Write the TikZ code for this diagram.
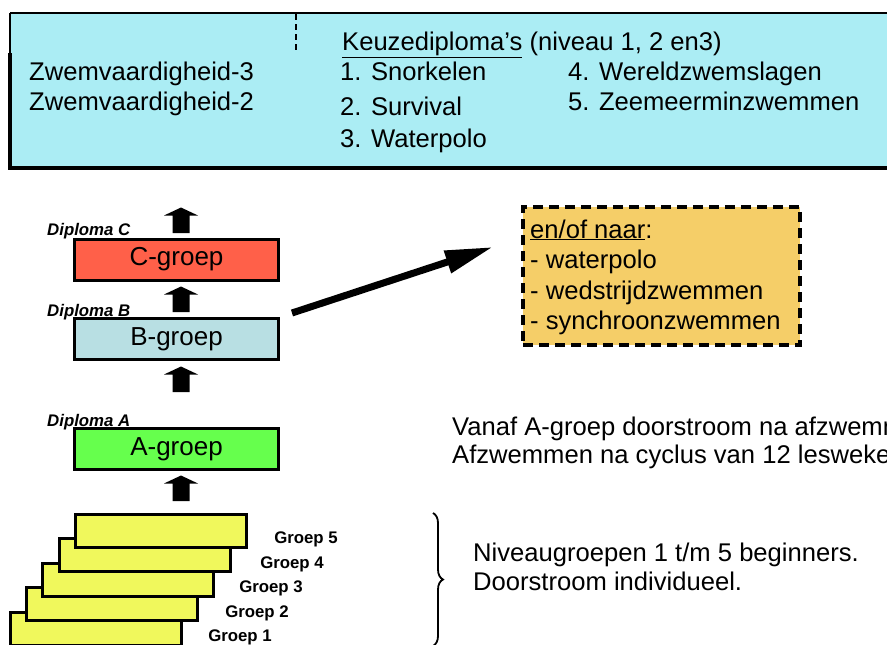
\documentclass[tikz,border=0pt]{standalone}
\usepackage{fontspec}
\setmainfont{Liberation Sans}
\usetikzlibrary{arrows.meta,decorations.pathreplacing}
\definecolor{topfill}{HTML}{ABEDF4}
\definecolor{cred}{HTML}{FF6049}
\definecolor{bblue}{HTML}{B8DFE3}
\definecolor{agreen}{HTML}{66FF4D}
\definecolor{gyellow}{HTML}{F0F85C}
\definecolor{oorange}{HTML}{F5CE68}
\newcommand{\myfs}[1]{\fontsize{#1}{#1}\selectfont}
\tikzset{
  txt/.style={anchor=base west, inner sep=0pt, font=\myfs{25.6}},
  toptxt/.style={anchor=base west, inner sep=0pt, font=\myfs{25.6}},
  gbox/.style={draw, line width=3pt, minimum width=204pt, minimum height=41pt, inner sep=0pt, font=\myfs{26}},
  ybox/.style={draw, line width=3pt, fill=gyellow, minimum width=171pt, minimum height=33pt, inner sep=0pt},
  ylabel/.style={inner sep=0pt, font=\myfs{16.8}\bfseries},
  dlabel/.style={anchor=base west, inner sep=0pt, font=\myfs{16.8}\bfseries\itshape},
  uparr/.pic={\fill (-8.5,0) -- (-8.5,-17.5) -- (-17,-17.5) -- (0,-25.5) -- (17,-17.5) -- (8.5,-17.5) -- (8.5,0) -- cycle;}
}
\begin{document}
\begin{tikzpicture}[x=1pt,y=-1pt]
\useasboundingbox (0,0) rectangle (887,645);
\clip (0,0) rectangle (887,645);
% top box
\fill[topfill] (10,13) rectangle (900,167);
\draw[line width=2pt] (10,13) -- (900,13);
\draw[line width=2pt] (10,13) -- (10,53);
\draw[line width=4pt] (10,53) -- (10,168) -- (900,168);
\draw[line width=1.5pt, dash pattern=on 6pt off 4pt] (296,14) -- (296,53);
\node[toptxt] (zv3) at (29,80) {Zwemvaardigheid-3};
\node[toptxt] (zv2) at (29,110) {Zwemvaardigheid-2};
\node[toptxt] (keuze) at (342,50) {\underline{Keuzediploma’s} (niveau 1, 2 en3)};
\node[toptxt] (k1) at (340,80) {1. Snorkelen};
\node[toptxt] (k2) at (340,115) {2. Survival};
\node[toptxt] (k3) at (340,147) {3. Waterpolo};
\node[toptxt] (k4) at (568,80) {4. Wereldzwemslagen};
\node[toptxt] (k5) at (568,110) {5. Zeemeerminzwemmen};
% level boxes
\node[gbox, fill=cred] (C) at (176.5,259.5) {C-groep};
\node[gbox, fill=bblue] (B) at (176.5,339) {B-groep};
\node[gbox, fill=agreen] (A) at (176.5,449) {A-groep};
\node[dlabel] (dC) at (47,235) {Diploma C};
\node[dlabel] (dB) at (47,316) {Diploma B};
\node[dlabel] (dA) at (47,426) {Diploma A};
\pic at (181,233) {uparr};
\pic at (181,312) {uparr};
\pic at (181,392) {uparr};
\pic at (181,501) {uparr};
% yellow groups
\node[ybox] (g1) at (95.5,628.5) {};
\node[ybox] (g2) at (111.5,603.5) {};
\node[ybox] (g3) at (127.5,579.5) {};
\node[ybox] (g4) at (144.5,554.5) {};
\node[ybox] (g5) at (160.5,530.5) {};
\node[ylabel] (l5) at (306,539) {Groep 5};
\node[ylabel] (l4) at (292,564) {Groep 4};
\node[ylabel] (l3) at (271,588) {Groep 3};
\node[ylabel] (l2) at (257,613) {Groep 2};
\node[ylabel] (l1) at (240,637) {Groep 1};
% brace
\draw[decorate, decoration={brace, amplitude=10pt}, line width=1.8pt] (433,513) -- (433,646);
\node[txt] (niv1) at (473,561) {Niveaugroepen 1 t/m 5 beginners.};
\node[txt] (niv2) at (473,590) {Doorstroom individueel.};
% vanaf text
\node[txt] (van1) at (452,435) {Vanaf A-groep doorstroom na afzwemmen.};
\node[txt] (van2) at (452,463) {Afzwemmen na cyclus van 12 lesweken.};
% orange box
\node[draw, line width=3.5pt, dash pattern=on 10pt off 6pt, fill=oorange, minimum width=277pt, minimum height=138pt, inner sep=0pt] (opt) at (661.5,276) {};
\node[txt] (o1) at (530,238) {\underline{en/of naar}:};
\node[txt] (o2) at (530,268) {- waterpolo};
\node[txt] (o3) at (530,299) {- wedstrijdzwemmen};
\node[txt] (o4) at (530,329) {- synchroonzwemmen};
% big arrow
\coordinate (arrtail) at (292,313);
\coordinate (arrtip) at (493,247);
\draw[line width=7pt, -{Triangle[length=48pt,width=22pt]}] (arrtail) -- (arrtip);
\end{tikzpicture}
\end{document}
